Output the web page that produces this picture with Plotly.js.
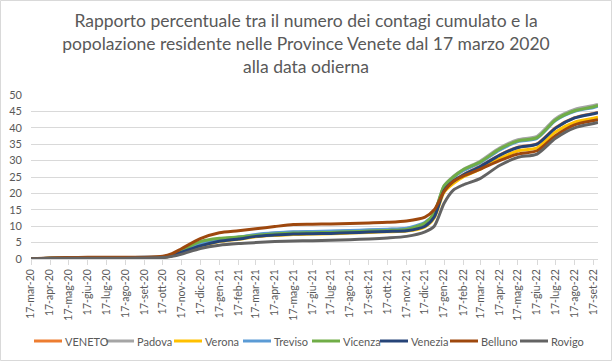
<!DOCTYPE html>
<html>
<head>
<meta charset="utf-8">
<script src="https://cdn.plot.ly/plotly-3.0.1.min.js"></script>
<style>
html,body{margin:0;padding:0;background:#fff;}
#chart{width:612px;height:361px;}
</style>
</head>
<body>
<div id="chart"></div>
<script>
// ---- data ----
const dates = [
  '2020-03-17','2020-04-17','2020-05-17','2020-06-17','2020-07-17','2020-08-17','2020-09-17',
  '2020-10-17','2020-11-01','2020-11-17','2020-12-17','2021-01-17','2021-02-17','2021-03-17',
  '2021-04-17','2021-05-17','2021-06-17','2021-07-17','2021-08-17','2021-09-17','2021-10-17',
  '2021-11-17','2021-12-17','2022-01-01','2022-01-17','2022-02-01','2022-02-17','2022-03-17',
  '2022-04-17','2022-05-17','2022-06-17','2022-07-17','2022-08-17','2022-09-17','2022-09-24'
];

const seriesNames = ['VENETO','Padova','Verona','Treviso','Vicenza','Venezia','Belluno','Rovigo'];

const veneto  = [0.03,0.22,0.32,0.34,0.35,0.37,0.44,0.52,1.05,2.15,4.1,5.5,6.2,7.0,7.4,7.7,7.8,7.9,8.1,8.3,8.5,8.7,10.1,12.9,21.0,23.8,25.7,28.3,31.7,34.1,35.1,40.0,43.1,44.4,44.7];
const padova  = [0.05,0.25,0.35,0.40,0.40,0.42,0.50,0.60,1.2,2.3,4.4,5.9,6.6,7.3,7.9,8.2,8.3,8.4,8.6,8.8,9.0,9.3,10.9,13.9,22.3,25.2,27.3,29.9,33.8,36.4,37.4,42.8,45.6,46.8,47.1];
const verona  = [0.03,0.20,0.30,0.32,0.33,0.35,0.42,0.50,1.0,2.0,3.9,5.3,6.0,6.8,7.2,7.5,7.6,7.7,7.9,8.1,8.3,8.5,9.8,12.5,20.4,23.0,25.0,27.4,30.6,33.0,33.9,38.7,41.7,42.9,43.2];
const treviso = [0.05,0.25,0.35,0.40,0.40,0.42,0.50,0.60,1.2,2.4,4.6,6.0,6.7,7.5,8.0,8.3,8.4,8.5,8.7,8.9,9.1,9.4,11.2,13.8,21.9,24.8,26.9,29.4,33.2,35.8,36.8,42.2,45.0,46.2,46.6];
const vicenza = [0.03,0.20,0.30,0.35,0.35,0.38,0.45,0.60,1.3,2.7,5.3,6.3,6.7,7.2,7.6,7.9,8.0,8.1,8.3,8.5,8.7,9.0,11.0,14.0,22.3,25.0,27.2,29.6,33.5,36.0,37.0,42.4,45.2,46.4,46.8];
const venezia = [0.03,0.20,0.30,0.32,0.33,0.35,0.42,0.50,1.0,2.1,4.0,5.4,6.1,6.9,7.3,7.6,7.7,7.8,8.0,8.2,8.4,8.6,10.0,12.8,20.9,23.7,25.6,28.2,31.6,34.0,35.0,39.9,43.0,44.3,44.6];
const belluno = [0.10,0.30,0.45,0.50,0.50,0.50,0.55,0.85,1.6,3.2,6.2,8.0,8.6,9.2,9.9,10.5,10.6,10.7,10.8,11.0,11.2,11.6,12.8,15.0,20.6,23.7,25.3,27.4,30.0,32.0,33.0,37.6,40.9,42.2,42.5];
const rovigo  = [0.05,0.15,0.20,0.20,0.22,0.25,0.30,0.45,0.8,1.5,3.2,4.2,4.7,5.0,5.3,5.5,5.6,5.7,5.9,6.1,6.4,6.9,8.3,10.0,17.0,21.0,22.6,24.6,28.5,31.0,32.0,36.8,40.0,41.3,41.6];

const tickDates = [
  '2020-03-17','2020-04-17','2020-05-17','2020-06-17','2020-07-17','2020-08-17','2020-09-17',
  '2020-10-17','2020-11-17','2020-12-17','2021-01-17','2021-02-17','2021-03-17','2021-04-17',
  '2021-05-17','2021-06-17','2021-07-17','2021-08-17','2021-09-17','2021-10-17','2021-11-17',
  '2021-12-17','2022-01-17','2022-02-17','2022-03-17','2022-04-17','2022-05-17','2022-06-17',
  '2022-07-17','2022-08-17','2022-09-17'
];
const tickLabels = [
  '17-mar-20','17-apr-20','17-mag-20','17-giu-20','17-lug-20','17-ago-20','17-set-20',
  '17-ott-20','17-nov-20','17-dic-20','17-gen-21','17-feb-21','17-mar-21','17-apr-21',
  '17-mag-21','17-giu-21','17-lug-21','17-ago-21','17-set-21','17-ott-21','17-nov-21',
  '17-dic-21','17-gen-22','17-feb-22','17-mar-22','17-apr-22','17-mag-22','17-giu-22',
  '17-lug-22','17-ago-22','17-set-22'
];

// ---- styling ----
const seriesValues = [veneto, padova, verona, treviso, vicenza, venezia, belluno, rovigo];
const seriesColors = ['#ED7D31','#A5A5A5','#FFC000','#5B9BD5','#70AD47','#264478','#9E480E','#636363'];

const W = 612, H = 361;
const M = {l: 31, r: 14, t: 95, b: 102};
const plotW = W - M.l - M.r, plotH = H - M.t - M.b;
const pxX = x => (x - M.l) / plotW;
const pxY = y => (H - M.b - y) / plotH;
const FONT = 'Lato, "Liberation Sans", sans-serif';
const TXT = '#595959';

const traces = seriesNames.map((n, i) => ({
  type: 'scatter', mode: 'lines', name: n,
  x: dates, y: seriesValues[i],
  line: {color: seriesColors[i], width: 3, shape: 'spline', smoothing: 0.7},
  hoverinfo: 'skip', showlegend: false
}));

// custom legend (Excel-like compact layout)
const legendStart = [34, 106, 174, 243, 312, 380, 450, 520];
const legendY = 341;
const shapes = [{
  type: 'rect', xref: 'paper', yref: 'paper',
  x0: pxX(0.5), x1: pxX(W - 0.5), y0: pxY(H - 0.5), y1: pxY(0.5),
  line: {color: '#D9D9D9', width: 1}, fillcolor: 'rgba(0,0,0,0)', layer: 'below'
}];
const annotations = [];
seriesNames.forEach((n, i) => {
  const x0 = legendStart[i];
  shapes.push({
    type: 'line', xref: 'paper', yref: 'paper',
    x0: pxX(x0), x1: pxX(x0 + 28), y0: pxY(legendY), y1: pxY(legendY),
    line: {color: seriesColors[i], width: 3}
  });
  annotations.push({
    xref: 'paper', yref: 'paper', x: pxX(x0 + 29), y: pxY(legendY),
    xanchor: 'left', yanchor: 'middle', showarrow: false,
    text: n, font: {family: FONT, size: 11, color: TXT}
  });
});

const layout = {
  width: W, height: H,
  margin: M,
  paper_bgcolor: '#fff', plot_bgcolor: '#fff',
  showlegend: false,
  title: {
    text: 'Rapporto percentuale tra il numero dei contagi cumulato e la<br>popolazione residente nelle Province Venete dal 17 marzo 2020<br>alla data odierna',
    font: {family: FONT, size: 17.5, color: TXT},
    x: 0.5, xref: 'container', xanchor: 'center',
    y: 1 - 27 / H, yref: 'container', yanchor: 'top'
  },
  xaxis: {
    type: 'date',
    range: ['2020-03-17', '2022-09-24'],
    tickmode: 'array', tickvals: tickDates, ticktext: tickLabels,
    tickangle: -90,
    tickfont: {family: FONT, size: 10.5, color: TXT},
    showgrid: false, zeroline: false,
    showline: true, linecolor: '#D9D9D9', linewidth: 1,
    ticks: 'outside', ticklen: 5, tickcolor: '#D9D9D9', tickwidth: 1
  },
  yaxis: {
    range: [0, 50], dtick: 5, tick0: 0,
    tickfont: {family: FONT, size: 11, color: TXT},
    showgrid: true, gridcolor: '#D9D9D9', gridwidth: 1,
    zeroline: false, showline: false, ticks: '',
    ticklabelstandoff: 8
  },
  shapes: shapes,
  annotations: annotations
};

Plotly.newPlot('chart', traces, layout, {staticPlot: true, displayModeBar: false});
</script>
</body>
</html>
